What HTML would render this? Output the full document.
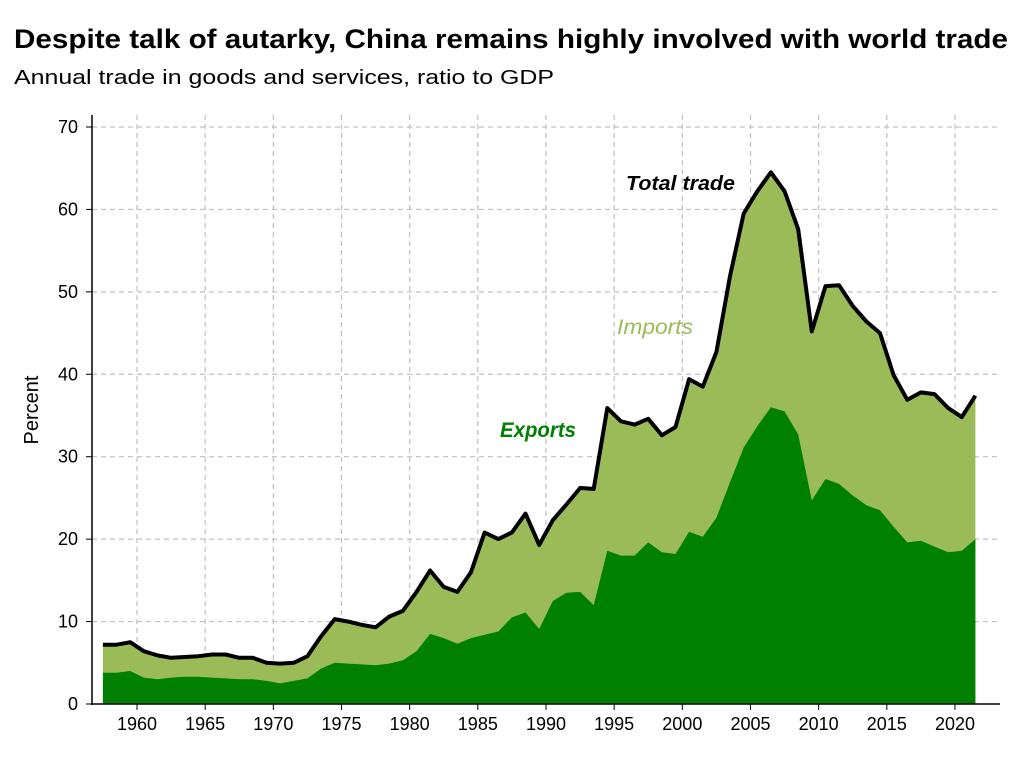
<!DOCTYPE html>
<html><head><meta charset="utf-8"><style>
body{margin:0;background:#fff}
text{font-family:"Liberation Sans","DejaVu Sans",sans-serif}
</style></head><body>
<svg id="s" width="1024" height="768" viewBox="0 0 1024 768" xmlns="http://www.w3.org/2000/svg">
<text x="14" y="48" font-size="27" font-weight="bold" textLength="994" lengthAdjust="spacingAndGlyphs">Despite talk of autarky, China remains highly involved with world trade</text>
<text x="14" y="84" font-size="20" textLength="540" lengthAdjust="spacingAndGlyphs">Annual trade in goods and services, ratio to GDP</text>
<g id="grid"></g>
<path id="imp" fill="#9bbb59"/>
<path id="exp" fill="#008000"/>
<path id="tot" fill="none" stroke="#000" stroke-width="4" stroke-linejoin="round"/>
<line x1="92" y1="115" x2="92" y2="705" stroke="#000" stroke-width="1.5"/>
<line x1="91" y1="704" x2="1000" y2="704" stroke="#000" stroke-width="1.5"/>
<g id="ticks" font-size="18"></g>
<text transform="translate(38,410) rotate(-90)" font-size="20" text-anchor="middle">Percent</text>
<text x="626" y="190" font-size="20" font-weight="bold" font-style="italic" textLength="109" lengthAdjust="spacingAndGlyphs">Total trade</text>
<text x="617" y="334" font-size="21" font-style="italic" fill="#9bbb59" textLength="76" lengthAdjust="spacingAndGlyphs">Imports</text>
<text x="500" y="437" font-size="21" font-weight="bold" font-style="italic" fill="#008000" textLength="76" lengthAdjust="spacingAndGlyphs">Exports</text>
</svg>
<script>
var T=[7.2,7.2,7.5,6.4,5.9,5.6,5.7,5.8,6.0,6.0,5.6,5.6,5.0,4.9,5.0,5.8,8.2,10.3,10.0,9.6,9.3,10.6,11.3,13.6,16.2,14.2,13.6,16.0,20.8,20.0,20.8,23.1,19.3,22.3,24.2,26.2,26.1,35.9,34.3,33.9,34.6,32.6,33.6,39.4,38.5,42.7,51.9,59.5,62.2,64.5,62.2,57.6,45.2,50.7,50.8,48.3,46.4,45.0,39.9,36.9,37.8,37.6,35.9,34.8,37.4];
var E=[3.8,3.8,4.0,3.2,3.0,3.2,3.3,3.3,3.2,3.1,3.0,3.0,2.8,2.5,2.8,3.1,4.3,5.0,4.9,4.8,4.7,4.9,5.3,6.4,8.5,8.0,7.3,8.0,8.4,8.8,10.5,11.1,9.1,12.5,13.5,13.6,12.0,18.6,18.0,18.0,19.6,18.4,18.2,20.9,20.3,22.6,26.9,31.1,33.7,36.0,35.5,32.7,24.7,27.3,26.7,25.3,24.1,23.5,21.5,19.6,19.8,19.1,18.4,18.6,20.0];
function X(i){return 137+(i+1957.5-1960)*13.633}
function Y(v){return 704-v*8.243}
var ns="http://www.w3.org/2000/svg";
function el(p,t,a,txt){var e=document.createElementNS(ns,t);for(var k in a)e.setAttribute(k,a[k]);if(txt)e.textContent=txt;document.getElementById(p).appendChild(e);return e}
for(var v=10;v<=70;v+=10)el("grid","line",{x1:92,x2:1000,y1:Y(v),y2:Y(v),stroke:"#c0c0c0","stroke-dasharray":"5,4","stroke-width":1.2});
for(var y=1960;y<=2020;y+=5){var x=137+(y-1960)*13.633;el("grid","line",{x1:x,x2:x,y1:115,y2:704,stroke:"#c0c0c0","stroke-dasharray":"5,4","stroke-width":1.2});
el("ticks","line",{x1:x,x2:x,y1:704,y2:710,stroke:"#000"});el("ticks","text",{x:x,y:730,"text-anchor":"middle"},""+y);}
for(var v=0;v<=70;v+=10){el("ticks","line",{x1:86,x2:92,y1:Y(v),y2:Y(v),stroke:"#000"});el("ticks","text",{x:78,y:Y(v)+6,"text-anchor":"end"},""+v);}
var t="",e="";for(var i=0;i<T.length;i++){t+=(i?"L":"M")+X(i).toFixed(1)+","+Y(T[i]).toFixed(1);e+="L"+X(i).toFixed(1)+","+Y(E[i]).toFixed(1);}
var x0=X(0).toFixed(1),x1=X(T.length-1).toFixed(1);
document.getElementById("tot").setAttribute("d",t);
document.getElementById("imp").setAttribute("d",t+"L"+x1+",704L"+x0+",704Z");
document.getElementById("exp").setAttribute("d","M"+x0+",704"+e+"L"+x1+",704Z");
</script>
</body></html>
